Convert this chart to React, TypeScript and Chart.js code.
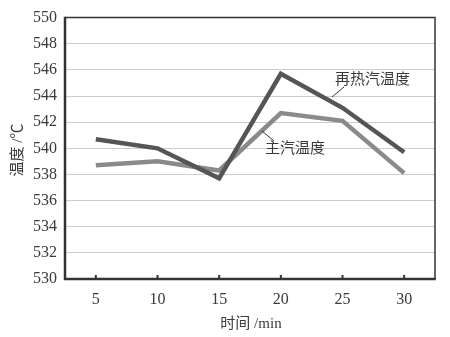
import React, { useEffect, useRef } from "react";
import { Chart, registerables } from "chart.js";

Chart.register(...registerables);

const categories = ["5", "10", "15", "20", "25", "30"];
const reheatTemp = [540.7, 540.0, 537.7, 545.7, 543.1, 539.7];
const mainTemp = [538.7, 539.0, 538.3, 542.7, 542.1, 538.1];
const yMin = 530;
const yMax = 550;
const yStep = 2;
const reheatLabel = "再热汽温度";
const mainLabel = "主汽温度";
const xTitle = "时间 /min";
const yTitle = "温度 /℃";

const FONT = '"Liberation Serif", "Noto Sans CJK SC", serif';

const decorPlugin = {
  id: "decor",
  afterDatasetsDraw(chart: any) {
    const { ctx, chartArea } = chart;
    const { left, right, top, bottom } = chartArea;
    ctx.save();
    // frame
    ctx.strokeStyle = "#333";
    ctx.lineWidth = 1.5;
    ctx.beginPath();
    ctx.moveTo(left, top);
    ctx.lineTo(right, top);
    ctx.lineTo(right, bottom);
    ctx.stroke();
    ctx.lineWidth = 2.5;
    ctx.beginPath();
    ctx.moveTo(left, top - 0.75);
    ctx.lineTo(left, bottom);
    ctx.lineTo(right + 0.75, bottom);
    ctx.stroke();
    // x tick marks (inward)
    const xs = chart.scales.x;
    ctx.lineWidth = 2;
    categories.forEach((_, i) => {
      const px = xs.getPixelForValue(i);
      ctx.beginPath();
      ctx.moveTo(px, bottom);
      ctx.lineTo(px, bottom - 4);
      ctx.stroke();
    });
    // annotations
    ctx.fillStyle = "#3a3a3a";
    ctx.font = `15px ${FONT}`;
    ctx.textBaseline = "middle";
    ctx.textAlign = "left";
    ctx.fillText(reheatLabel, 335, 80);
    ctx.fillText(mainLabel, 265, 149);
    ctx.lineWidth = 1;
    ctx.strokeStyle = "#333";
    ctx.beginPath();
    ctx.moveTo(344, 87);
    ctx.lineTo(332, 97);
    ctx.moveTo(262, 131);
    ctx.lineTo(274, 141);
    ctx.stroke();
    // axis titles
    ctx.textAlign = "center";
    ctx.fillText(xTitle, 251, 324);
    ctx.translate(18, 150);
    ctx.rotate(-Math.PI / 2);
    ctx.fillText(yTitle, 0, 0);
    ctx.restore();
  },
};

export default function App() {
  const ref = useRef<HTMLCanvasElement>(null);
  useEffect(() => {
    document.body.style.margin = "0";
    const chart = new Chart(ref.current!, {
      type: "line",
      data: {
        labels: categories,
        datasets: [
          {
            label: reheatLabel,
            data: reheatTemp,
            borderColor: "#555555",
            borderWidth: 4.5,
            pointRadius: 0,
            tension: 0,
          },
          {
            label: mainLabel,
            data: mainTemp,
            borderColor: "#8a8a8a",
            borderWidth: 4.5,
            pointRadius: 0,
            tension: 0,
          },
        ],
      },
      options: {
        animation: false,
        responsive: false,
        layout: { padding: { left: 0, top: 12, right: 15, bottom: 0 } },
        plugins: { legend: { display: false }, tooltip: { enabled: false } },
        scales: {
          x: {
            offset: true,
            grid: { display: false, drawTicks: false },
            border: { display: false },
            ticks: { color: "#3a3a3a", font: { family: FONT, size: 16 }, padding: 11 },
            afterFit: (s: any) => {
              s.height = 58;
            },
          },
          y: {
            min: yMin,
            max: yMax,
            grid: { color: "#cccccc", lineWidth: 1, drawTicks: false },
            border: { display: false },
            ticks: { stepSize: yStep, color: "#3a3a3a", font: { family: FONT, size: 16 }, padding: 8 },
            afterFit: (s: any) => {
              s.width = 65;
            },
          },
        },
      },
      plugins: [decorPlugin],
    });
    return () => chart.destroy();
  }, []);
  return (
    <div style={{ position: "absolute", left: 0, top: 0, width: 450, height: 337 }}>
      <canvas ref={ref} width={450} height={337} style={{ width: 450, height: 337 }} />
    </div>
  );
}
